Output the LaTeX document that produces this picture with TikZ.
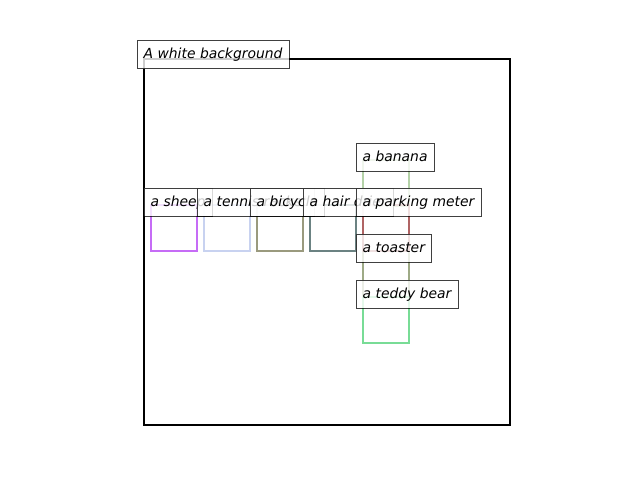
\documentclass[tikz,border=0pt]{standalone}
\usepackage{fontspec}
\setmainfont{DejaVu Sans}
\usetikzlibrary{calc}
\definecolor{cSheep}{HTML}{C66CF6}
\definecolor{cTennis}{HTML}{C8D2F0}
\definecolor{cBicycle}{HTML}{9A9A7E}
\definecolor{cDrier}{HTML}{6B8282}
\definecolor{cMeter}{HTML}{B06464}
\definecolor{cBanana}{HTML}{B4D2A8}
\definecolor{cToaster}{HTML}{9EAA86}
\definecolor{cTeddy}{HTML}{78DC96}
\begin{document}
\begin{tikzpicture}[x=0.72pt, y=-0.72pt,
  frame/.style={draw=black, line width=1.5pt, inner sep=0pt, outer sep=0pt,
    minimum width=263.5pt, minimum height=263.5pt, anchor=north west},
  objbox/.style={draw=#1, line width=1.8pt, inner sep=0pt, outer sep=0pt,
    minimum width=33.1pt, minimum height=33.1pt, anchor=north west},
  lbl/.style={draw=black, draw opacity=0.75, fill=white, fill opacity=0.8,
    text opacity=1, font=\itshape, line width=0.72pt, inner xsep=4.8pt,
    inner ysep=5.08pt, text height=8.1pt, text depth=1.9pt, outer sep=0pt,
    anchor=north west}]
  \useasboundingbox (0,0) rectangle (640,480);

  % outer frame
  \node[frame] (bg) at (144,59) {};

  % object boxes
  \node[objbox=cSheep]   (sheep)   at (151,205) {};
  \node[objbox=cTennis]  (tennis)  at (204,205) {};
  \node[objbox=cBicycle] (bicycle) at (257,205) {};
  \node[objbox=cDrier]   (drier)   at (310,205) {};
  \node[objbox=cBanana]  (banana)  at (363,160) {};
  \node[objbox=cToaster] (toaster) at (363,251) {};
  \node[objbox=cMeter]   (meter)   at (363,205) {};
  \node[objbox=cTeddy]   (teddy)   at (363,297) {};

  % captions
  \node[lbl] (bgL)      at ($(bg.north west)+(-7,-18.5)$)      {A white background};
  \node[lbl] (sheepL)   at ($(sheep.north west)+(-7,-17)$)     {a sheep};
  \node[lbl] (tennisL)  at ($(tennis.north west)+(-7,-17)$)    {a tennis racket};
  \node[lbl] (bicycleL) at ($(bicycle.north west)+(-7,-17)$)   {a bicycle};
  \node[lbl] (drierL)   at ($(drier.north west)+(-7,-17)$)     {a hair drier};
  \node[lbl] (meterL)   at ($(meter.north west)+(-7,-17)$)     {a parking meter};
  \node[lbl] (bananaL)  at ($(banana.north west)+(-7,-17)$)    {a banana};
  \node[lbl] (toasterL) at ($(toaster.north west)+(-7,-17)$)   {a toaster};
  \node[lbl] (teddyL)   at ($(teddy.north west)+(-7,-17)$)     {a teddy bear};
\end{tikzpicture}
\end{document}
